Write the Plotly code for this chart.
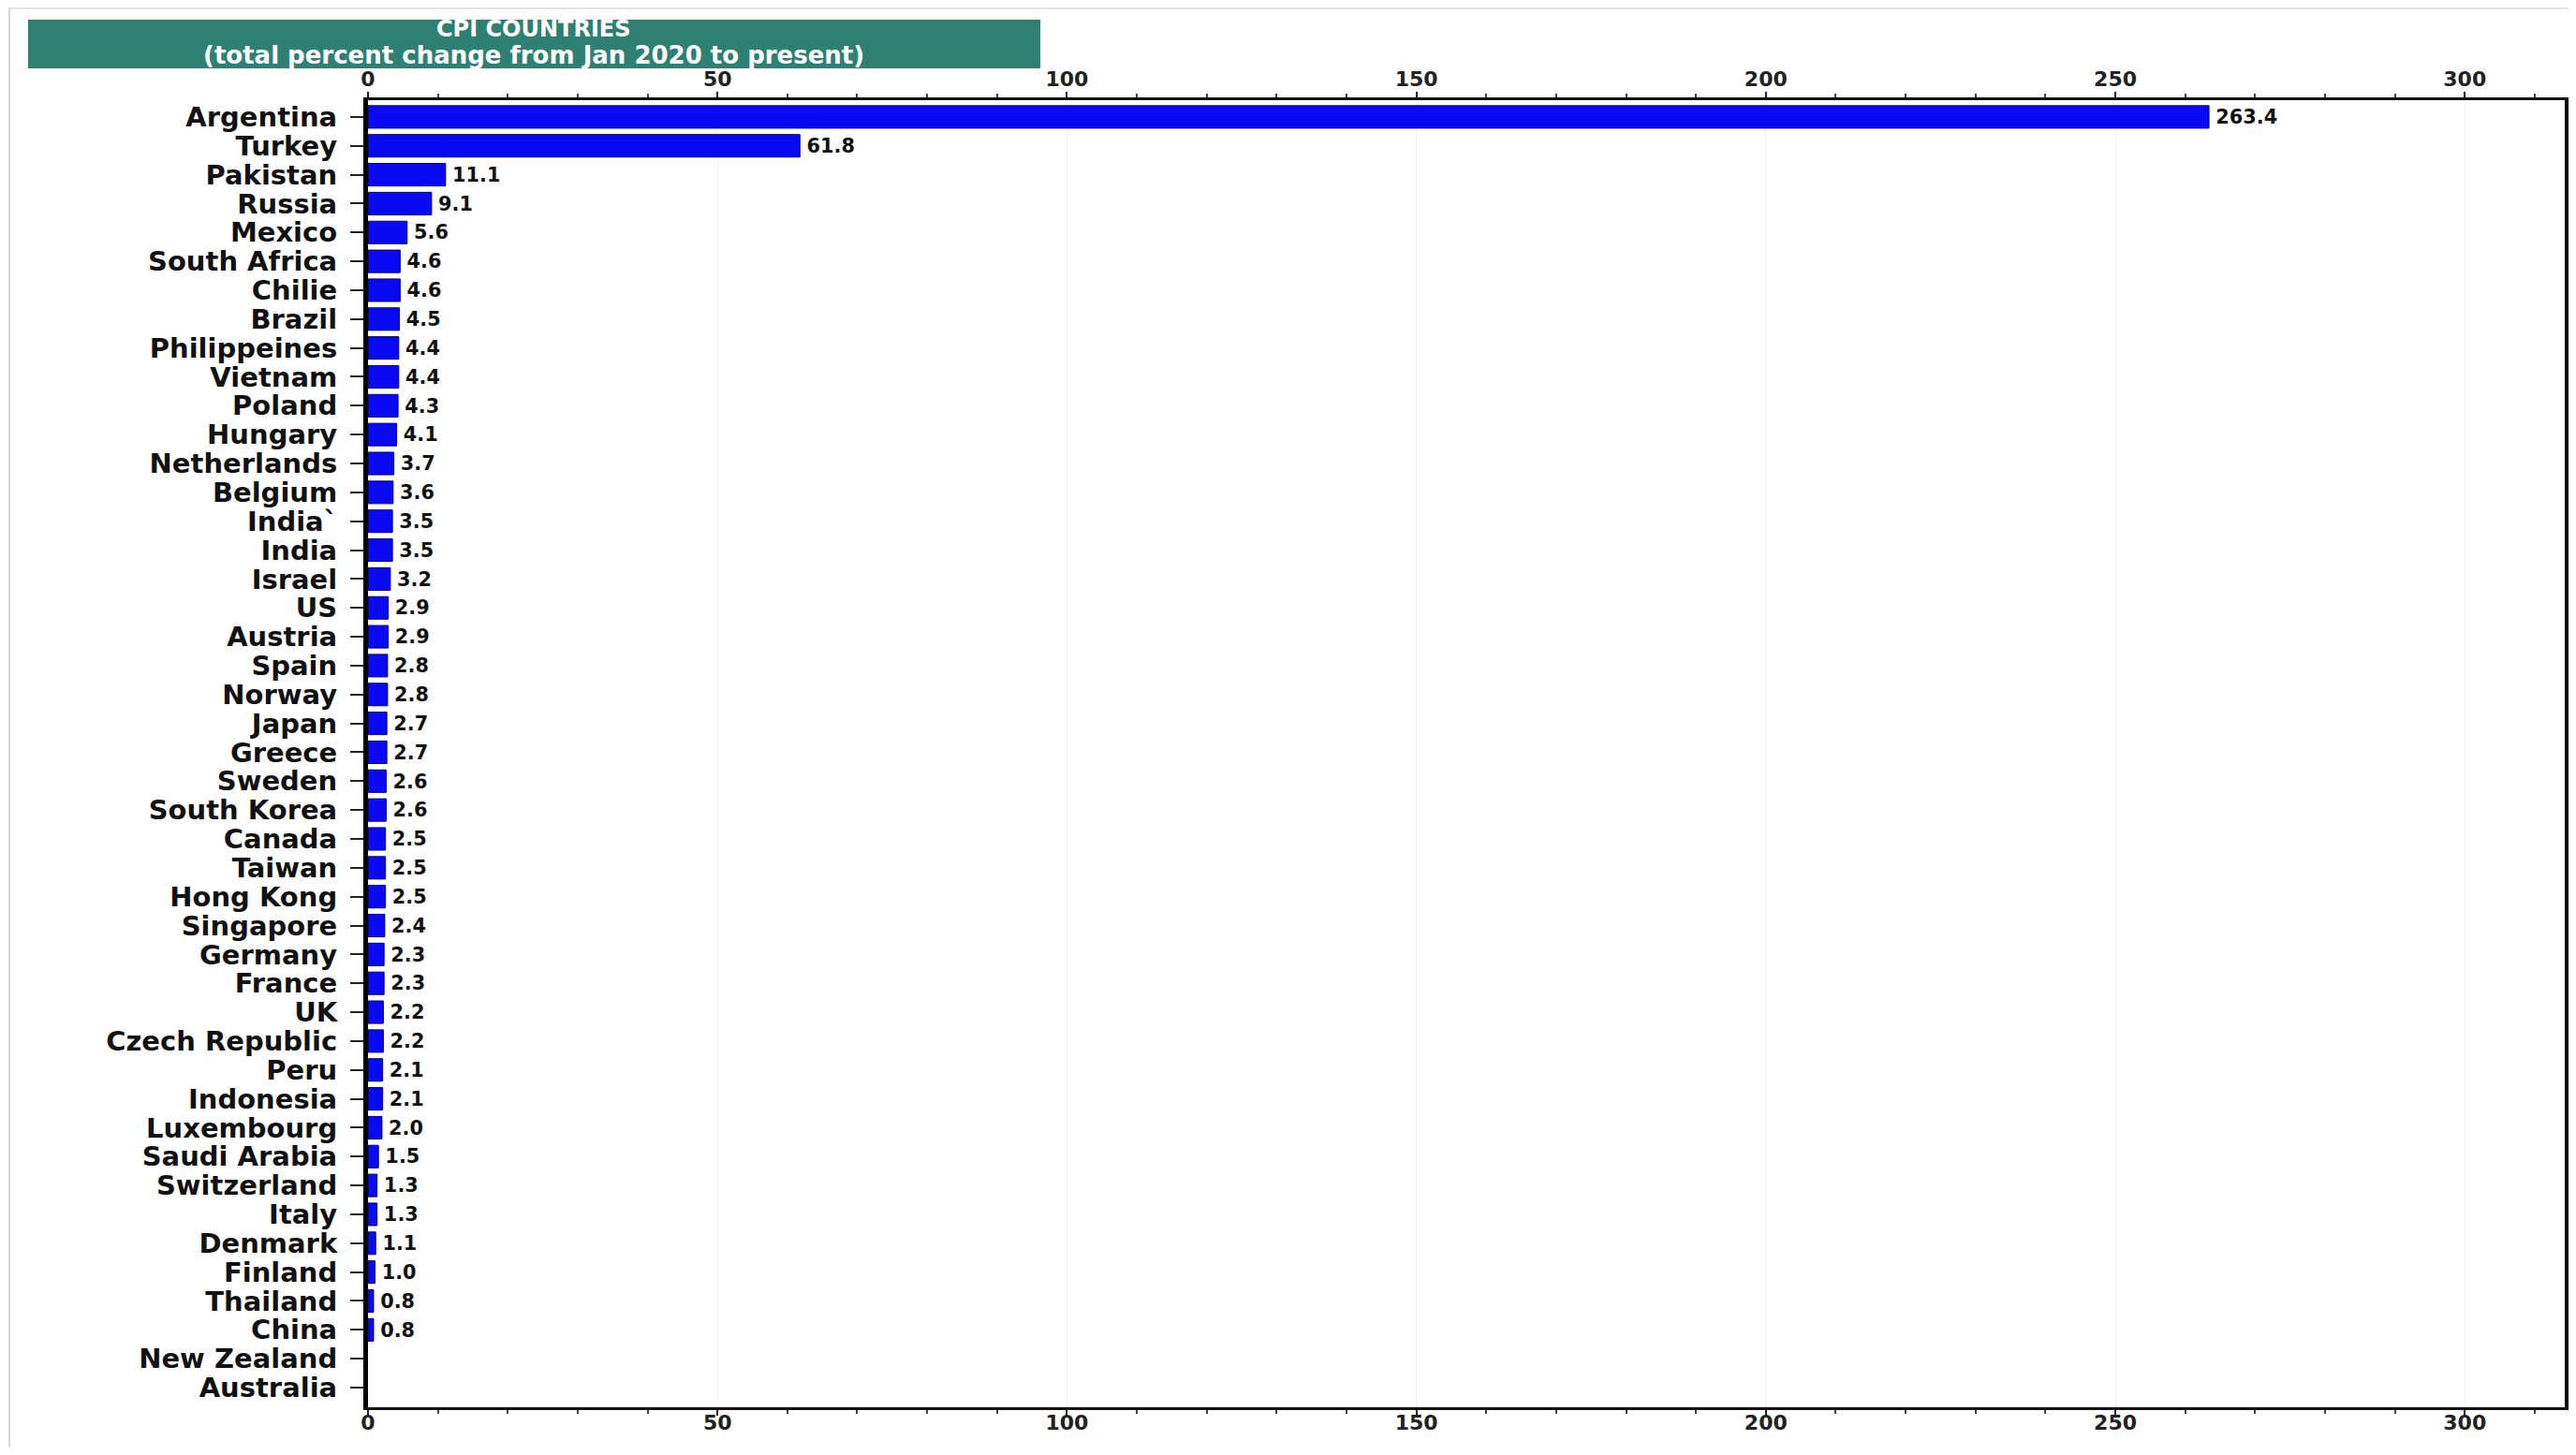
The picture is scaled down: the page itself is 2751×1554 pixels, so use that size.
import plotly.graph_objects as go

countries = ["Argentina", "Turkey", "Pakistan", "Russia", "Mexico", "South Africa", "Chilie",
             "Brazil", "Philippeines", "Vietnam", "Poland", "Hungary", "Netherlands", "Belgium",
             "India`", "India", "Israel", "US", "Austria", "Spain", "Norway", "Japan", "Greece",
             "Sweden", "South Korea", "Canada", "Taiwan", "Hong Kong", "Singapore", "Germany",
             "France", "UK", "Czech Republic", "Peru", "Indonesia", "Luxembourg", "Saudi Arabia",
             "Switzerland", "Italy", "Denmark", "Finland", "Thailand", "China", "New Zealand",
             "Australia"]
values = [263.4, 61.8, 11.1, 9.1, 5.6, 4.6, 4.6, 4.5, 4.4, 4.4, 4.3, 4.1, 3.7, 3.6, 3.5, 3.5,
          3.2, 2.9, 2.9, 2.8, 2.8, 2.7, 2.7, 2.6, 2.6, 2.5, 2.5, 2.5, 2.4, 2.3, 2.3, 2.2, 2.2,
          2.1, 2.1, 2.0, 1.5, 1.3, 1.3, 1.1, 1.0, 0.8, 0.8, None, None]
x_ticks = [0, 50, 100, 150, 200, 250, 300]
title_line1 = "CPI COUNTRIES"
title_line2 = "(total percent change from Jan 2020 to present)"

labels = ["" if v is None else "\u2009" + f"{v:.1f}" for v in values]

# page is offset by the default 8px body margin
OFF = 8
W, H = 2751 - 2 * OFF, 1554 - 2 * OFF
L = 393 - OFF
T = 107 - OFF
R = W - (2739 - OFF)
B = H - (1503 - OFF)
pw, ph = W - L - R, H - T - B

def px_x(p):  # page pixel -> paper
    return (p - OFF - L) / pw

def px_y(p):
    return (H - B - (p - OFF)) / ph

FONT = "DejaVu Sans"

fig = go.Figure()
fig.add_trace(go.Bar(
    x=values, y=countries, orientation="h",
    marker=dict(color="#0a0af2", line=dict(color="#00008a", width=1)),
    width=0.78,
    text=labels, textposition="outside", cliponaxis=False,
    textfont=dict(family=FONT, size=26, color="#111111", weight="bold"),
    hoverinfo="x+y",
))
fig.add_trace(go.Scatter(x=[0], y=[countries[0]], xaxis="x2", mode="markers",
                         marker=dict(opacity=0), showlegend=False, hoverinfo="skip"))

axis_common = dict(
    range=[0, 314.3], tickvals=x_ticks, ticks="outside", ticklen=6, tickwidth=2,
    tickcolor="#222", showline=True, linecolor="#111", linewidth=3,
    showgrid=True, gridcolor="#f2f2f2", gridwidth=1, zeroline=False, automargin=False,
    tickfont=dict(family=FONT, size=22, color="#222", weight="bold"),
    minor=dict(dtick=10, ticks="outside", ticklen=4, tickwidth=1.5, tickcolor="#444", showgrid=False),
)

fig.update_layout(
    width=W, height=H,
    margin=dict(l=L, r=R, t=T, b=B, pad=0, autoexpand=False),
    paper_bgcolor="white", plot_bgcolor="white",
    showlegend=False,
    xaxis=dict(**axis_common, side="bottom", ticklabelstandoff=-11),
    xaxis2=dict(**axis_common, side="top", overlaying="x", matches="x", anchor="y",
                ticklabelstandoff=-3),
    yaxis=dict(
        categoryorder="array", categoryarray=countries,
        tickmode="array", tickvals=countries, ticktext=countries,
        range=[44.68, -0.58], ticks="outside", ticklen=14, tickwidth=2, tickcolor="#222",
        ticklabelstandoff=8,
        showline=True, linecolor="#000", linewidth=5, mirror=True,
        showgrid=False, zeroline=False, automargin=False,
        tickfont=dict(family=FONT, size=29, color="#111", weight="bold"),
    ),
    shapes=[
        dict(type="rect", xref="paper", yref="paper",
             x0=px_x(30), x1=px_x(1111), y0=px_y(73), y1=px_y(21),
             fillcolor="#2e8073", line=dict(width=0), layer="above"),
        dict(type="line", xref="paper", yref="paper",
             x0=px_x(10), x1=px_x(10), y0=px_y(8), y1=px_y(1546),
             line=dict(color="#d6d6d6", width=2)),
        dict(type="line", xref="paper", yref="paper",
             x0=px_x(10), x1=px_x(2743), y0=px_y(9), y1=px_y(9),
             line=dict(color="#e2e2e2", width=2)),
    ],
    annotations=[
        dict(xref="paper", yref="paper", x=px_x(570), y=px_y(31), xanchor="center", yanchor="middle",
             text=title_line1, showarrow=False,
             font=dict(family=FONT, size=24, color="white", weight="bold")),
        dict(xref="paper", yref="paper", x=px_x(570), y=px_y(59), xanchor="center", yanchor="middle",
             text=title_line2, showarrow=False,
             font=dict(family=FONT, size=26, color="white", weight="bold")),
    ],
)

fig.write_html("out.html")
